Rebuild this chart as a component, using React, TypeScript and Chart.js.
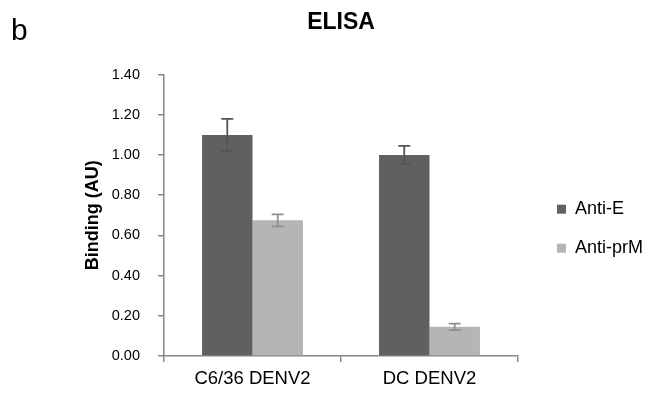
import React, { useEffect, useRef } from "react";
import { Chart, registerables } from "chart.js";

Chart.register(...registerables);

const categories = ["C6/36 DENV2", "DC DENV2"];
const seriesNames = ["Anti-E", "Anti-prM"];
const antiE = [1.1, 1.0];
const antiEErr = [0.08, 0.045];
const antiPrM = [0.675, 0.145];
const antiPrMErr = [0.03, 0.016];
const yMin = 0;
const yMax = 1.4;
const yStep = 0.2;

const FONT = "'Liberation Sans', Arial, sans-serif";

const errorBarPlugin = {
  id: "errorBars",
  afterDatasetsDraw(chart: any) {
    const ctx = chart.ctx;
    const yScale = chart.scales.y;
    chart.data.datasets.forEach((ds: any, di: number) => {
      const meta = chart.getDatasetMeta(di);
      if (meta.hidden) return;
      meta.data.forEach((bar: any, i: number) => {
        const v = ds.data[i];
        const e = ds.errors[i];
        const x = bar.x;
        const yTop = yScale.getPixelForValue(v + e);
        const yBot = yScale.getPixelForValue(v - e);
        ctx.save();
        ctx.strokeStyle = ds.errorColor;
        ctx.lineWidth = 1.8;
        ctx.beginPath();
        ctx.moveTo(x, yTop);
        ctx.lineTo(x, yBot);
        ctx.moveTo(x - 6, yTop);
        ctx.lineTo(x + 6, yTop);
        ctx.moveTo(x - 6, yBot);
        ctx.lineTo(x + 6, yBot);
        ctx.stroke();
        ctx.restore();
      });
    });
  },
};

const panelLabelPlugin = {
  id: "panelLabel",
  afterDraw(chart: any) {
    const ctx = chart.ctx;
    ctx.save();
    ctx.fillStyle = "#000";
    ctx.font = `30px ${FONT}`;
    ctx.textBaseline = "alphabetic";
    ctx.fillText("b", 11, 40);
    ctx.restore();
  },
};

export default function App() {
  const ref = useRef<HTMLCanvasElement | null>(null);
  useEffect(() => {
    if (!ref.current) return;
    const chart = new Chart(ref.current, {
      type: "bar",
      data: {
        labels: categories,
        datasets: [
          {
            label: seriesNames[0],
            data: antiE,
            errors: antiEErr,
            errorColor: "#555555",
            backgroundColor: "#606060",
            categoryPercentage: 0.57,
            barPercentage: 1.0,
          } as any,
          {
            label: seriesNames[1],
            data: antiPrM,
            errors: antiPrMErr,
            errorColor: "#8f8f8f",
            backgroundColor: "#b5b5b5",
            categoryPercentage: 0.57,
            barPercentage: 1.0,
          } as any,
        ],
      },
      options: {
        responsive: false,
        animation: false,
        layout: { padding: { left: 82, right: 2, top: 0, bottom: 0 } },
        plugins: {
          title: {
            display: true,
            text: "ELISA",
            fullSize: false,
            color: "#000",
            font: { family: FONT, size: 23, weight: "bold" },
            padding: { top: 9, bottom: 38 },
          },
          legend: {
            position: "right",
            align: "center",
            maxWidth: 200,
            title: {
              display: true,
              text: " ",
              font: { family: FONT, size: 12 },
              padding: 25,
            },
            labels: {
              color: "#000",
              boxWidth: 9,
              boxHeight: 9,
              padding: 21,
              font: { family: FONT, size: 18 },
            },
          },
          tooltip: { enabled: false },
        },
        scales: {
          x: {
            offset: true,
            grid: {
              display: true,
              offset: true,
              drawOnChartArea: false,
              drawTicks: true,
              tickLength: 6,
              color: "#868686",
              lineWidth: 1.5,
            },
            border: { display: true, color: "#868686", width: 1.5 },
            ticks: { color: "#000", font: { family: FONT, size: 18.5, lineHeight: 1.0 }, padding: 8 },
            afterFit: (s: any) => {
              s.height = 37;
            },
          },
          y: {
            min: yMin,
            max: yMax,
            grid: {
              display: true,
              drawOnChartArea: false,
              drawTicks: true,
              tickLength: 6,
              color: "#868686",
              lineWidth: 1.5,
            },
            border: { display: true, color: "#868686", width: 1.5 },
            ticks: {
              stepSize: yStep,
              color: "#000",
              font: { family: FONT, size: 14.5 },
              padding: 18,
              callback: (v: any) => Number(v).toFixed(2),
            },
            title: {
              display: true,
              text: "Binding (AU)",
              color: "#000",
              font: { family: FONT, size: 18, weight: "bold" },
              padding: { top: 0, bottom: 0 },
            },
            afterFit: (s: any) => {
              s.width = 82;
            },
          },
          spacer: {
            position: "right",
            display: true,
            grid: { display: false },
            border: { display: false },
            ticks: { display: false },
            afterFit: (s: any) => {
              s.width = 18;
            },
          },
        },
      } as any,
      plugins: [errorBarPlugin, panelLabelPlugin],
    });
    return () => chart.destroy();
  }, []);
  return (
    <div style={{ position: "absolute", left: 0, top: 0, width: 655, height: 393, background: "#fff" }}>
      <canvas ref={ref} width={655} height={393} />
    </div>
  );
}
